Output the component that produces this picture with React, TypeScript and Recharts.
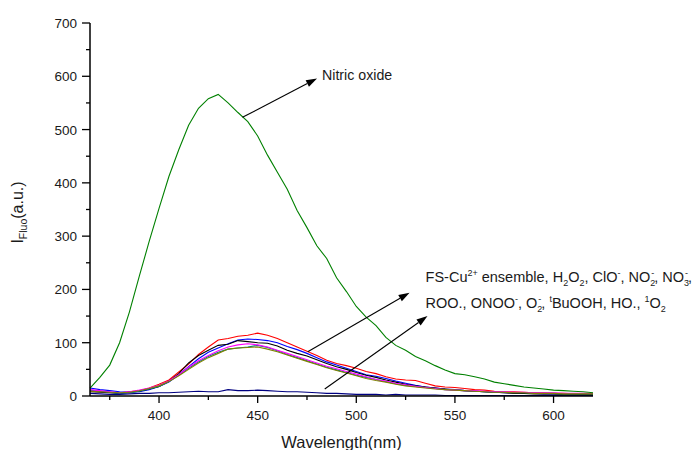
import React from "react";
import { LineChart, Line, XAxis, YAxis, ReferenceLine } from "recharts";

const WAVELENGTH = [
  365, 370, 375, 380, 385, 390, 395, 400, 405, 410, 415, 420, 425, 430, 435, 440, 445, 450,
  455, 460, 465, 470, 475, 480, 485, 490, 495, 500, 505, 510, 515, 520, 525, 530, 535, 540,
  545, 550, 555, 560, 565, 570, 575, 580, 585, 590, 595, 600, 605, 610, 615, 620,
];

const NITRIC_OXIDE = [
  15, 35, 58, 100, 158, 225, 290, 352, 412, 462, 508, 540, 558, 566, 550, 532, 515, 488,
  452, 420, 388, 348, 316, 282, 258, 222, 196, 168, 148, 132, 110, 95, 86, 74, 66, 57,
  49, 42, 40, 36, 32, 26, 23, 20, 17, 15, 13, 11, 10, 9, 8, 6,
];
const RED = [
  10, 9, 7, 6, 8, 10, 15, 22, 30, 45, 60, 78, 92, 105, 108, 112, 114, 118,
  114, 108, 100, 92, 84, 76, 67, 61, 57, 52, 46, 42, 36, 32, 30, 29, 24, 19,
  17, 16, 14, 12, 11, 9, 8, 8, 7, 6, 6, 5, 5, 4, 4, 4,
];
const BLUE = [
  15, 12, 10, 8, 7, 8, 12, 18, 26, 40, 55, 70, 82, 90, 98, 105, 107, 106,
  104, 100, 93, 87, 80, 72, 64, 58, 52, 46, 40, 37, 33, 28, 24, 20, 17, 15,
  13, 12, 10, 9, 8, 7, 6, 6, 5, 5, 4, 4, 4, 3, 3, 3,
];
const BLACK = [
  8, 7, 6, 5, 7, 9, 13, 18, 28, 42, 62, 76, 86, 95, 97, 104, 102, 100,
  99, 94, 86, 80, 75, 68, 61, 55, 50, 44, 39, 35, 30, 26, 22, 19, 17, 15,
  13, 11, 10, 9, 8, 7, 6, 5, 5, 4, 4, 4, 3, 3, 3, 3,
];
const MAGENTA = [
  12, 10, 8, 6, 8, 11, 15, 20, 28, 40, 54, 66, 76, 85, 92, 96, 98, 96,
  92, 86, 80, 74, 68, 62, 56, 51, 46, 41, 36, 31, 28, 24, 21, 18, 16, 14,
  12, 11, 10, 10, 9, 8, 8, 7, 7, 6, 6, 6, 5, 5, 5, 5,
];
const DARK_CYAN = [
  11, 9, 7, 5, 6, 9, 13, 18, 27, 39, 52, 64, 74, 82, 88, 90, 92, 95,
  91, 85, 78, 72, 66, 60, 54, 49, 44, 39, 35, 31, 27, 23, 20, 18, 16, 14,
  12, 11, 10, 9, 8, 7, 7, 6, 6, 5, 5, 5, 4, 4, 4, 4,
];
const OLIVE = [
  9, 8, 7, 6, 7, 10, 14, 19, 27, 38, 50, 62, 72, 80, 88, 90, 91, 92,
  88, 83, 77, 71, 65, 59, 53, 48, 43, 38, 33, 29, 26, 22, 19, 17, 15, 13,
  12, 11, 10, 9, 8, 7, 7, 6, 6, 5, 5, 5, 4, 4, 4, 4,
];
const NAVY = [
  5, 4, 3, 3, 4, 5, 5, 6, 6, 7, 8, 9, 8, 8, 12, 10, 10, 11,
  10, 9, 8, 8, 7, 6, 5, 5, 4, 3, 3, 3, 2, 3, 2, 2, 2, 2,
  1, 1, 1, 1, 1, 1, 1, 1, 1, 1, 1, 1, 1, 1, 1, 1,
];

const X_TICKS = [375, 400, 425, 450, 475, 500, 525, 550, 575, 600];
const X_LABELED = [400, 450, 500, 550, 600];
const Y_TICKS = [0, 50, 100, 150, 200, 250, 300, 350, 400, 450, 500, 550, 600, 650, 700];
const Y_LABELED = [0, 100, 200, 300, 400, 500, 600, 700];

const SERIES = [
  { key: "red", values: RED, color: "#ff0000" },
  { key: "blue", values: BLUE, color: "#0000ff" },
  { key: "black", values: BLACK, color: "#000000" },
  { key: "darkCyan", values: DARK_CYAN, color: "#008080" },
  { key: "magenta", values: MAGENTA, color: "#ff00ff" },
  { key: "olive", values: OLIVE, color: "#808000" },
  { key: "navy", values: NAVY, color: "#000080" },
  { key: "nitric", values: NITRIC_OXIDE, color: "#008000" },
];

const rows = WAVELENGTH.map((w, i) => {
  const row: Record<string, number> = { w };
  SERIES.forEach((s) => (row[s.key] = s.values[i]));
  return row;
});

const FONT = "Arial, 'Liberation Sans', sans-serif";
const INK = "#1a1a1a";

type Seg = [string, number, number?];

const ROW_1: Seg[] = [
  ["FS-Cu", 0], ["2+", 1], [" ensemble, H", 0], ["2", -1], ["O", 0], ["2", -1],
  [", ClO", 0], ["-", 1], [", NO", 0], ["2", -1], ["-", 1, -4], [", NO", 0], ["3", -1], ["-", 1, -4], [",", 0],
];
const ROW_2: Seg[] = [
  ["ROO., ONOO", 0], ["-", 1], [", O", 0], ["2", -1], ["-", 1, -4], [", ", 0], ["t", 1],
  ["BuOOH, HO., ", 0], ["1", 1], ["O", 0], ["2", -1],
];

function RichText({ x, y, segs, size }: { x: number; y: number; segs: Seg[]; size: number }) {
  let cur = 0;
  return (
    <text x={x} y={y} fontSize={size} fontFamily={FONT} fill={INK}>
      {segs.map(([t, s, dx], i) => {
        const target = s === 1 ? -size * 0.38 : s === -1 ? size * 0.3 : 0;
        const dy = target - cur;
        cur = target;
        return (
          <tspan key={i} dy={dy} dx={dx} fontSize={s ? size * 0.62 : size}>
            {t}
          </tspan>
        );
      })}
    </text>
  );
}

function Arrow(props: any) {
  const { x1, y1, x2, y2, note } = props;
  const ang = Math.atan2(y2 - y1, x2 - x1);
  const len = 11;
  const half = 3.6;
  const bx = x2 - len * Math.cos(ang);
  const by = y2 - len * Math.sin(ang);
  const px = -Math.sin(ang) * half;
  const py = Math.cos(ang) * half;
  return (
    <g>
      <line x1={x1} y1={y1} x2={bx} y2={by} stroke="#000" strokeWidth={1.1} />
      <polygon points={`${x2},${y2} ${bx + px},${by + py} ${bx - px},${by - py}`} fill="#000" />
      {note === "nitric" && (
        <text x={x2 + 5} y={y2 + 2} fontSize={14.2} fontFamily={FONT} fill={INK}>
          Nitric oxide
        </text>
      )}
      {note === "list" && (
        <g>
          <RichText x={x2 + 16} y={y2 - 11} segs={ROW_1} size={14.5} />
          <RichText x={x2 + 16} y={y2 + 15} segs={ROW_2} size={14.5} />
        </g>
      )}
    </g>
  );
}

function XTick({ x, y, payload }: any) {
  const major = X_LABELED.includes(payload.value);
  return (
    <g>
      <line x1={x} y1={y} x2={x} y2={y + (major ? 7 : 4)} stroke="#000" strokeWidth={1.3} />
      {major && (
        <text x={x} y={y + 24} textAnchor="middle" fontSize={13.5} fontFamily={FONT} fill={INK}>
          {payload.value}
        </text>
      )}
    </g>
  );
}

function YTick({ x, y, payload }: any) {
  const major = Y_LABELED.includes(payload.value);
  return (
    <g>
      <line x1={x} y1={y} x2={x - (major ? 8 : 4)} y2={y} stroke="#000" strokeWidth={1.3} />
      {major && (
        <text x={x - 13} y={y + 5} textAnchor="end" fontSize={13.5} fontFamily={FONT} fill={INK}>
          {payload.value}
        </text>
      )}
    </g>
  );
}

function YTitle({ viewBox }: any) {
  const cx = viewBox.x + 23;
  const cy = viewBox.y + viewBox.height / 2 + 3;
  return (
    <text
      x={cx}
      y={cy}
      transform={`rotate(-90 ${cx} ${cy})`}
      textAnchor="middle"
      fontSize={16}
      fontFamily={FONT}
      fill={INK}
    >
      <tspan>I</tspan>
      <tspan fontSize={10.5} dy={4}>Fluo</tspan>
      <tspan dy={-4}>(a.u.)</tspan>
    </text>
  );
}

export default function App() {
  return (
    <div style={{ position: "absolute", left: 0, top: 0, width: 697, height: 450, background: "#fff" }}>
      <LineChart width={697} height={450} data={rows} margin={{ top: 23, right: 104, bottom: 0, left: 0 }}>
        <XAxis
          dataKey="w"
          type="number"
          domain={[365, 620]}
          ticks={X_TICKS}
          interval={0}
          height={54}
          tickSize={0}
          tickMargin={0}
          tick={<XTick />}
          axisLine={{ stroke: "#000", strokeWidth: 1.5 }}
          label={{ value: "Wavelength(nm)", position: "insideBottom", offset: 2, fontSize: 16.5, fill: INK, fontFamily: FONT }}
        />
        <YAxis
          type="number"
          domain={[0, 700]}
          ticks={Y_TICKS}
          interval={0}
          width={90}
          tickSize={0}
          tickMargin={0}
          tick={<YTick />}
          axisLine={{ stroke: "#000", strokeWidth: 1.5 }}
          label={{ content: <YTitle /> }}
        />
        {SERIES.map((s) => (
          <Line
            key={s.key}
            dataKey={s.key}
            stroke={s.color}
            strokeWidth={1.1}
            dot={false}
            type="linear"
            isAnimationActive={false}
          />
        ))}
        <ReferenceLine
          segment={[{ x: 442.3, y: 523 }, { x: 480.1, y: 596 }]}
          shape={(p: any) => <Arrow {...p} note="nitric" />}
        />
        <ReferenceLine
          segment={[{ x: 475.4, y: 83 }, { x: 527, y: 194 }]}
          shape={(p: any) => <Arrow {...p} note="list" />}
        />
        <ReferenceLine
          segment={[{ x: 484, y: 13 }, { x: 536.1, y: 150 }]}
          shape={(p: any) => <Arrow {...p} />}
        />
      </LineChart>
    </div>
  );
}
